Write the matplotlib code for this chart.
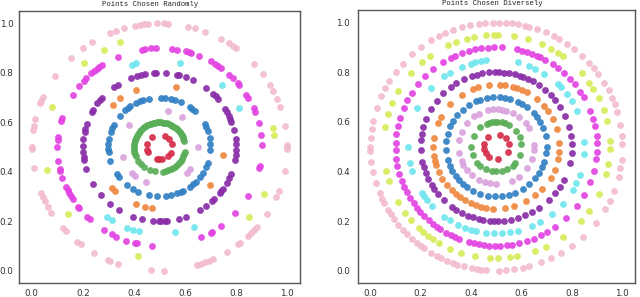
import numpy as np
import matplotlib
matplotlib.use("Agg")
import matplotlib.pyplot as plt

# rings (center 0.5, 0.5)
ring_radius = [0.05, 0.10, 0.15, 0.20, 0.25, 0.30, 0.35, 0.40, 0.45, 0.50]
ring_colors = ['#d62d4a', '#5aae57', '#d9a3dd', '#3380c4', '#ee8840',
               '#8a2da8', '#70e6ef', '#e244e2', '#d8ec5a', '#f2bccf']

# angles (degrees) of points, left panel
red_rand = [15, 41, 66, 126, 165, 192, 205, 258, 268, 282, 310, 333]
green_rand = [15, 20, 24, 29, 33, 38, 42, 47, 51, 56, 60, 64, 69, 73, 78, 82, 87, 91,
              96, 100, 104, 109, 113, 118, 122, 127, 131, 136, 140, 145, 149, 154, 158,
              163, 167, 172, 176, 181, 186, 191, 196, 201, 214, 222, 232, 247, 261, 278,
              284, 290, 296, 302, 308, 314, 320, 326, 332, 338, 343, 349]
lilac_rand = [0, 54, 77, 143, 196, 224, 231, 250, 316, 324]
blue_rand = [4, 11, 19, 24, 28, 46, 51, 54, 65, 72, 77, 84, 88, 102, 109, 113, 117, 125,
             128, 132, 141, 154, 158, 162, 171, 177, 182, 186, 196, 213, 217, 230, 239,
             245, 258, 267, 277, 283, 290, 295, 297, 306, 311, 315, 322, 328, 336, 341, 356]
orange_rand = [75, 112, 128, 137, 222, 226, 248, 257, 263, 322, 353]
purple_rand = [2.5, 6, 13, 20, 22.5, 25, 28, 31, 40.5, 43, 46, 53, 64, 70, 75, 77, 85,
               92.5, 94, 101, 104, 107, 112, 123, 126, 139, 141, 144, 150, 152, 162, 166,
               168, 174, 179, 184, 188, 190, 197, 210, 220, 230, 238, 250, 257, 265, 270,
               271, 274, 276, 285, 290, 302, 307, 313, 315, 322, 324, 326, 331, 335, 339,
               350, 354, 357.5]
cyan_rand = [27, 46, 77, 105, 108, 234, 238, 249, 253, 257, 280, 293]
magenta_rand = [1, 7, 14, 21, 23, 30, 32, 39, 40, 44, 47, 53, 55, 57, 60, 67, 72, 73, 75,
                80, 83, 92, 95, 98, 100, 114, 124, 126, 128, 130, 132, 136, 138, 142, 148,
                163, 165, 174, 176, 180, 188, 193, 194, 198, 204, 206, 208, 210, 212, 217,
                218, 225, 227, 237, 242, 245, 251, 256, 257, 266, 294, 300, 301, 307, 318,
                330, 348, 349]
yellow_rand = [6, 10, 110, 119, 131, 159, 192, 217, 259, 321, 335]
pink_rand = [0, 1, 10, 19, 23, 27, 30, 36, 42, 53, 55, 57, 61, 69, 74, 77, 86, 88, 91, 95,
             97, 99, 101, 106, 110, 113, 122, 127, 134, 145, 156, 158, 159, 167, 170, 172,
             180, 181, 190, 202, 204, 206, 209, 212, 221, 223, 230, 232, 239, 246, 247,
             251, 266, 272, 287, 289, 291, 293, 295, 302, 308, 309, 314, 316, 318, 320,
             327, 336, 339, 349, 359]

# right panel
red_div = [12, 41, 74, 129, 168, 191, 212, 235, 279, 334]
green_div = [6, 22, 40, 59, 71, 78, 88, 94, 101, 107, 112, 129, 154, 180, 201, 220, 231,
             246, 259, 270, 283, 294, 310, 317, 340]
lilac_div = [2, 30, 39, 53, 63, 75, 82, 88, 95, 103, 118, 126, 140, 157, 170, 190, 203,
             209, 219, 229, 243, 252, 260, 270, 294, 306, 324, 340, 354]
blue_div = [0, 12, 22, 30, 36, 42, 53, 60, 65, 74.5, 80, 86, 93.5, 101, 109, 114, 123,
            132, 140.5, 149, 156, 165, 173, 184, 196, 203.5, 209, 216, 222, 229, 235, 243,
            251.5, 261, 268.5, 276, 284, 292, 302, 311, 321, 328, 336, 342, 352]
orange_div = [3.5, 16, 26, 35, 41, 50, 61, 66, 71, 75, 82, 87, 97, 107, 112, 123, 137,
              152, 158, 172, 180, 189, 193, 197, 204, 211, 218, 225, 230, 235, 240, 246,
              251, 256, 261, 267, 278, 286, 298, 308, 317, 330, 338, 348, 355]
purple_div = [2, 8, 15, 24, 32, 39, 44, 50, 56, 61, 65, 69, 72, 76, 80, 84, 88, 91, 95.5,
              101, 105, 109, 115, 122, 127, 134.5, 142, 150, 158, 165, 170.5, 175, 182.5,
              192, 196, 201, 206, 211, 215, 220, 226, 234, 238, 243, 248, 252, 257, 260,
              265, 268, 271, 276, 281, 287, 292.5, 298, 304, 314, 321, 327, 333, 347, 355]
cyan_div = [3, 24, 31.5, 37, 43, 46, 57, 64, 68, 76, 97, 100, 104, 107, 113, 122, 126,
            138, 154, 180, 191, 196, 212, 215, 218, 223, 234, 238, 244.5, 249, 253, 257,
            263, 268.5, 274, 279, 284, 294, 300, 309, 319, 330, 335, 341, 355]
magenta_div = [2, 6, 12, 16, 21, 30, 33.5, 39, 43, 48, 52, 56, 61, 64, 66, 69, 72, 75, 78,
               87, 91.5, 95, 98.5, 102, 106, 110, 114, 117, 122, 129, 135, 141, 147, 152,
               157, 163, 168, 173, 178, 182, 187, 191, 196, 200, 204, 207, 211, 215, 218,
               221, 224, 228, 231, 234, 236, 240, 243, 245.5, 248, 254, 257, 260, 263,
               266, 269, 272, 276, 279, 283, 288, 292, 296.6, 300.5, 305.7, 314, 323, 331,
               339, 346, 353, 357]
yellow_div = [3, 13, 19, 25.5, 31, 35, 41, 54, 57, 61, 66.5, 74, 81, 89, 91, 95, 101.5,
              105, 111, 115, 126, 131, 139, 150, 157, 163, 170, 192.5, 198, 210, 216.5,
              221, 227, 230, 233, 236, 239.5, 246, 252, 259, 267, 271, 277, 280.6, 290,
              296, 306, 318, 325, 335, 346, 351, 359]
pink_div = [1, 5, 10, 16, 20, 23, 27, 31, 36, 39.5, 42.5, 47, 52, 56, 60, 63, 67, 71, 75,
            77, 80, 83, 85.5, 89, 91.5, 95, 98, 102, 106, 110, 114, 117, 121, 127, 132,
            138, 143, 148, 152, 156, 162, 168, 172, 176, 180, 182, 187, 192, 197, 202,
            205, 207, 211, 213, 215.5, 219, 222, 225, 228, 231, 233, 235, 239, 242, 244,
            247, 250, 252, 255, 259, 261, 263, 265.5, 271, 274.6, 278, 282, 285, 291,
            295.6, 301, 307, 313.5, 322, 330, 334, 339, 346, 350, 354]

random_rings = [red_rand, green_rand, lilac_rand, blue_rand, orange_rand,
                purple_rand, cyan_rand, magenta_rand, yellow_rand, pink_rand]
diverse_rings = [red_div, green_div, lilac_div, blue_div, orange_div,
                 purple_div, cyan_div, magenta_div, yellow_div, pink_div]

titles = ['Points Chosen Randomly', 'Points Chosen Diversely']
ticks = [0.0, 0.2, 0.4, 0.6, 0.8, 1.0]

fig = plt.figure(figsize=(6.4, 2.97), dpi=100)
ax1 = fig.add_axes([0.0297, 0.047, 0.439, 0.916])
ax2 = fig.add_axes([0.559, 0.047, 0.433, 0.919])

for ax, rings, title, tx, ypad in [(ax1, random_rings, titles[0], 0.466, 4.0),
                                   (ax2, diverse_rings, titles[1], 0.487, 5.5)]:
    for r, c, ang in zip(ring_radius, ring_colors, rings):
        a = np.deg2rad(np.array(ang, dtype=float))
        ax.scatter(0.5 + r * np.cos(a), 0.5 + r * np.sin(a), s=24, color=c,
                   alpha=0.92, linewidths=0)
    ax.set_xlim(-0.05, 1.05)
    ax.set_ylim(-0.05, 1.05)
    ax.set_xticks(ticks)
    ax.set_yticks(ticks)
    ax.set_xticklabels(['%.1f' % t for t in ticks])
    ax.set_yticklabels(['%.1f' % t for t in ticks])
    ax.tick_params(axis='both', length=0, labelsize=6.3, colors='#333333')
    ax.tick_params(axis='x', pad=4)
    ax.tick_params(axis='y', pad=ypad)
    for sp in ax.spines.values():
        sp.set_color('#555555')
        sp.set_linewidth(1.0)
    ax.text(tx, 1.012, title, transform=ax.transAxes, ha='center', va='bottom',
            fontsize=5.2, family='Liberation Mono', color='#222222')

fig.savefig('out.png', dpi=100)
